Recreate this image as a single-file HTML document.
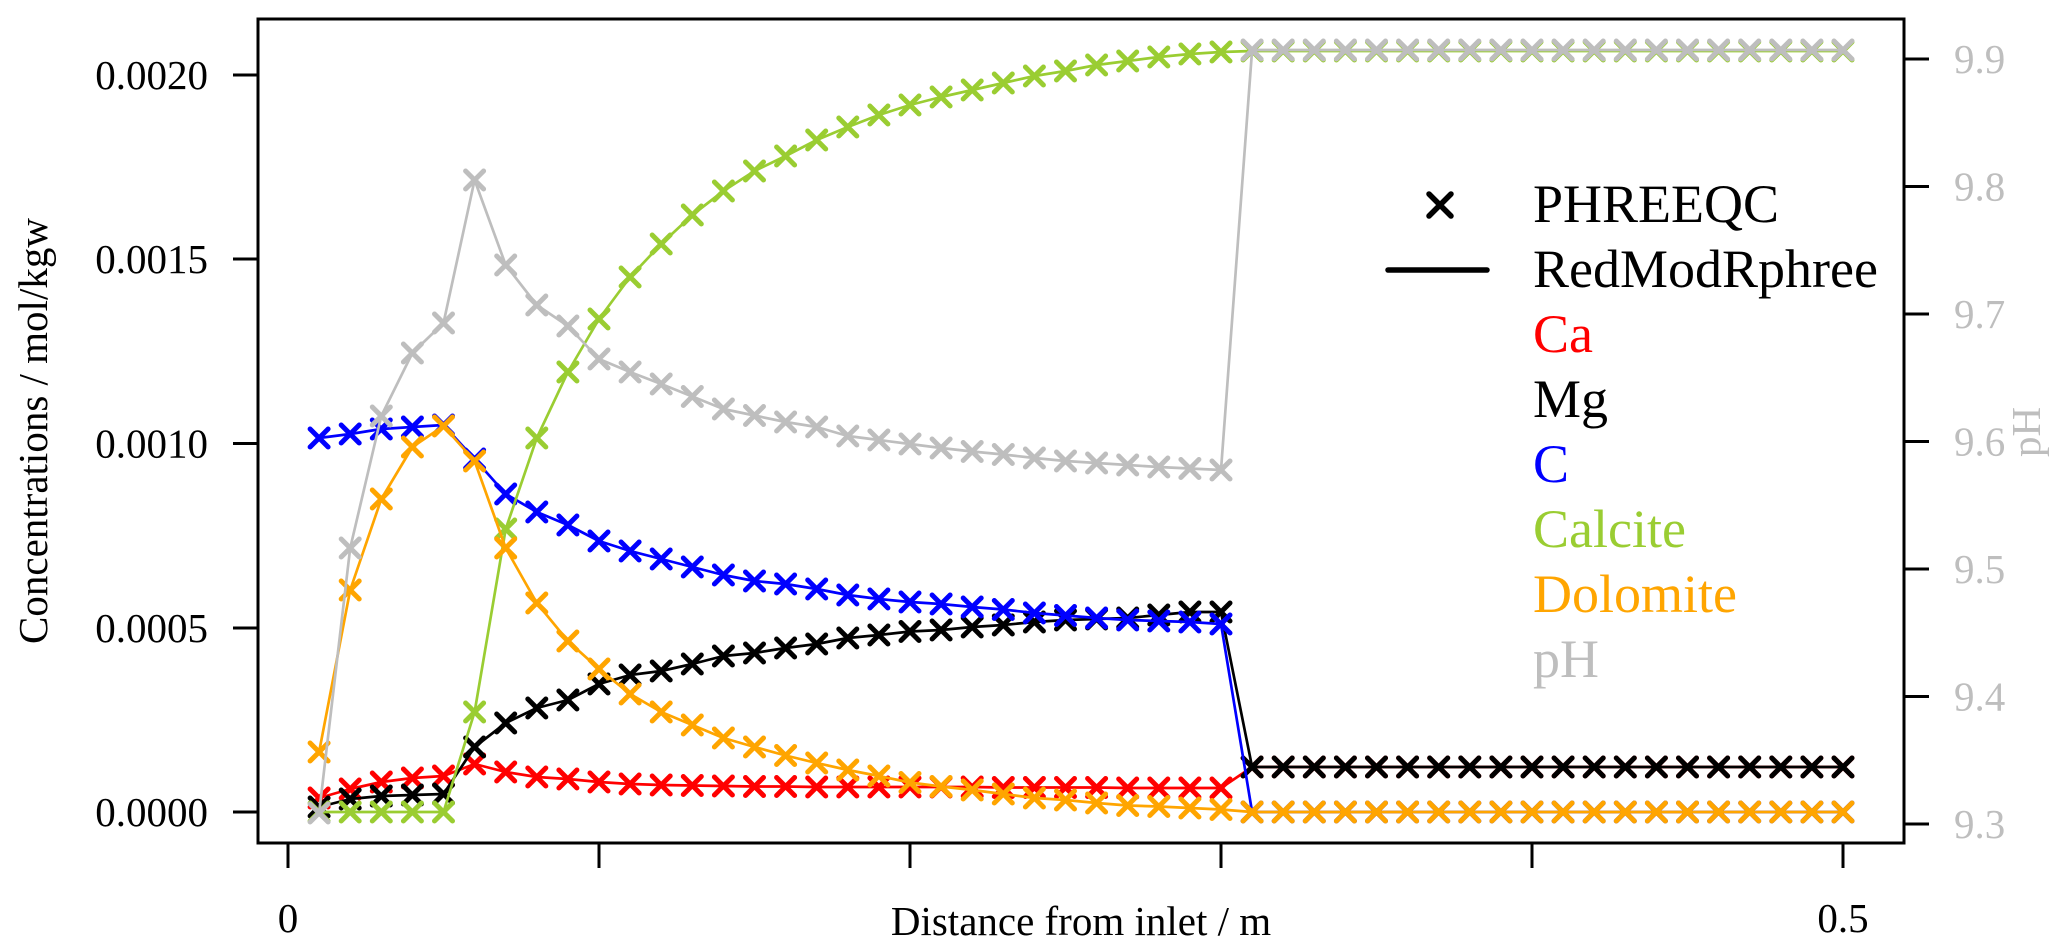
<!DOCTYPE html>
<html>
<head>
<meta charset="utf-8">
<style>
  html, body { margin: 0; padding: 0; background: #ffffff; }
  svg { display: block; }
  text { font-family: "Liberation Serif", "Times New Roman", serif; }
</style>
</head>
<body>
<svg width="2067" height="949" viewBox="0 0 2067 949" xmlns="http://www.w3.org/2000/svg">
  <defs>
    <marker id="mr" markerUnits="userSpaceOnUse" markerWidth="30" markerHeight="30" refX="15" refY="15" orient="0" overflow="visible">
      <path d="M6 6L24 24M6 24L24 6" stroke="#FF0000" stroke-width="5" stroke-linecap="round" fill="none"/>
    </marker>
    <marker id="mk" markerUnits="userSpaceOnUse" markerWidth="30" markerHeight="30" refX="15" refY="15" orient="0" overflow="visible">
      <path d="M6 6L24 24M6 24L24 6" stroke="#000000" stroke-width="5" stroke-linecap="round" fill="none"/>
    </marker>
    <marker id="mb" markerUnits="userSpaceOnUse" markerWidth="30" markerHeight="30" refX="15" refY="15" orient="0" overflow="visible">
      <path d="M6 6L24 24M6 24L24 6" stroke="#0000FF" stroke-width="5" stroke-linecap="round" fill="none"/>
    </marker>
    <marker id="mg" markerUnits="userSpaceOnUse" markerWidth="30" markerHeight="30" refX="15" refY="15" orient="0" overflow="visible">
      <path d="M6 6L24 24M6 24L24 6" stroke="#9ACD32" stroke-width="5" stroke-linecap="round" fill="none"/>
    </marker>
    <marker id="mo" markerUnits="userSpaceOnUse" markerWidth="30" markerHeight="30" refX="15" refY="15" orient="0" overflow="visible">
      <path d="M6 6L24 24M6 24L24 6" stroke="#FFA500" stroke-width="5" stroke-linecap="round" fill="none"/>
    </marker>
    <marker id="mp" markerUnits="userSpaceOnUse" markerWidth="30" markerHeight="30" refX="15" refY="15" orient="0" overflow="visible">
      <path d="M6 6L24 24M6 24L24 6" stroke="#BEBEBE" stroke-width="5" stroke-linecap="round" fill="none"/>
    </marker>
  </defs>

  <!-- Series: Ca -->
  <polyline fill="none" stroke="#FF0000" stroke-width="2.7" stroke-linejoin="round"
    marker-start="url(#mr)" marker-mid="url(#mr)" marker-end="url(#mr)"
    points="319.1,798 350.2,789 381.3,782 412.4,778 443.5,776 474.6,764 505.7,772 536.8,777 567.9,779 599,782 630.1,784 661.2,785 692.3,785.5 723.4,786 754.5,786.5 785.6,786.5 816.7,787 847.8,787 878.9,787 910,787 941.1,787 972.2,787 1003.3,787.5 1034.4,787.5 1065.5,787.5 1096.6,787.5 1127.7,788 1158.8,788 1189.9,788 1221,788 1252.1,767 1283.2,767 1314.3,767 1345.4,767 1376.5,767 1407.6,767 1438.7,767 1469.8,767 1500.9,767 1532,767 1563.1,767 1594.2,767 1625.3,767 1656.4,767 1687.5,767 1718.6,767 1749.7,767 1780.8,767 1811.9,767 1843,767"/>

  <!-- Series: Mg -->
  <polyline fill="none" stroke="#000000" stroke-width="2.7" stroke-linejoin="round"
    marker-start="url(#mk)" marker-mid="url(#mk)" marker-end="url(#mk)"
    points="319.1,807 350.2,799 381.3,796 412.4,795 443.5,794 474.6,747 505.7,723 536.8,708 567.9,700 599,684 630.1,675 661.2,671 692.3,664 723.4,656 754.5,653 785.6,648 816.7,644 847.8,638 878.9,635 910,631.5 941.1,630 972.2,627 1003.3,625 1034.4,622 1065.5,620 1096.6,619 1127.7,618 1158.8,615 1189.9,612 1221,612 1252.1,767 1283.2,767 1314.3,767 1345.4,767 1376.5,767 1407.6,767 1438.7,767 1469.8,767 1500.9,767 1532,767 1563.1,767 1594.2,767 1625.3,767 1656.4,767 1687.5,767 1718.6,767 1749.7,767 1780.8,767 1811.9,767 1843,767"/>

  <!-- Series: C -->
  <polyline fill="none" stroke="#0000FF" stroke-width="2.7" stroke-linejoin="round"
    marker-start="url(#mb)" marker-mid="url(#mb)" marker-end="url(#mb)"
    points="319.1,438 350.2,434 381.3,429 412.4,427 443.5,425 474.6,459 505.7,494 536.8,512 567.9,525 599,541 630.1,551 661.2,559 692.3,567 723.4,575 754.5,581 785.6,584 816.7,589 847.8,595 878.9,599 910,602 941.1,604 972.2,607 1003.3,609.5 1034.4,613 1065.5,615.5 1096.6,618 1127.7,620 1158.8,621 1189.9,622 1221,624 1252.1,812 1283.2,812 1314.3,812 1345.4,812 1376.5,812 1407.6,812 1438.7,812 1469.8,812 1500.9,812 1532,812 1563.1,812 1594.2,812 1625.3,812 1656.4,812 1687.5,812 1718.6,812 1749.7,812 1780.8,812 1811.9,812 1843,812"/>

  <!-- Series: Calcite -->
  <polyline fill="none" stroke="#9ACD32" stroke-width="2.7" stroke-linejoin="round"
    marker-start="url(#mg)" marker-mid="url(#mg)" marker-end="url(#mg)"
    points="319.1,812 350.2,812 381.3,812 412.4,812 443.5,812 474.6,712 505.7,529 536.8,438 567.9,372 599,319 630.1,277 661.2,244 692.3,215 723.4,191 754.5,171 785.6,156 816.7,140 847.8,127 878.9,115 910,105 941.1,97 972.2,90 1003.3,83 1034.4,76 1065.5,71 1096.6,65 1127.7,61 1158.8,57 1189.9,54 1221,52 1252.1,51 1283.2,51 1314.3,51 1345.4,51 1376.5,51 1407.6,51 1438.7,51 1469.8,51 1500.9,51 1532,51 1563.1,51 1594.2,51 1625.3,51 1656.4,51 1687.5,51 1718.6,51 1749.7,51 1780.8,51 1811.9,51 1843,51"/>

  <!-- Series: Dolomite -->
  <polyline fill="none" stroke="#FFA500" stroke-width="2.7" stroke-linejoin="round"
    marker-start="url(#mo)" marker-mid="url(#mo)" marker-end="url(#mo)"
    points="319.1,752 350.2,590 381.3,499 412.4,447 443.5,426 474.6,461 505.7,548 536.8,603 567.9,641 599,669 630.1,694 661.2,712 692.3,725 723.4,738 754.5,747 785.6,755.5 816.7,763 847.8,770 878.9,776 910,782.5 941.1,786.5 972.2,790 1003.3,794 1034.4,798 1065.5,800 1096.6,803 1127.7,805.5 1158.8,806.5 1189.9,808 1221,809.5 1252.1,812 1283.2,812 1314.3,812 1345.4,812 1376.5,812 1407.6,812 1438.7,812 1469.8,812 1500.9,812 1532,812 1563.1,812 1594.2,812 1625.3,812 1656.4,812 1687.5,812 1718.6,812 1749.7,812 1780.8,812 1811.9,812 1843,812"/>

  <!-- Series: pH (right axis) -->
  <polyline fill="none" stroke="#BEBEBE" stroke-width="2.7" stroke-linejoin="round"
    marker-start="url(#mp)" marker-mid="url(#mp)" marker-end="url(#mp)"
    points="319.1,813 350.2,548 381.3,416 412.4,353 443.5,323 474.6,180 505.7,265 536.8,305 567.9,326 599,359 630.1,372 661.2,384 692.3,396.5 723.4,409 754.5,415.5 785.6,422 816.7,427 847.8,436 878.9,440 910,444 941.1,448 972.2,451.5 1003.3,454.5 1034.4,458 1065.5,461 1096.6,463 1127.7,465 1158.8,467 1189.9,468.5 1221,470 1252.1,50 1283.2,50 1314.3,50 1345.4,50 1376.5,50 1407.6,50 1438.7,50 1469.8,50 1500.9,50 1532,50 1563.1,50 1594.2,50 1625.3,50 1656.4,50 1687.5,50 1718.6,50 1749.7,50 1780.8,50 1811.9,50 1843,50"/>

  <!-- Plot box -->
  <rect x="258" y="19" width="1646" height="824" fill="none" stroke="#000" stroke-width="3"/>

  <!-- Left ticks -->
  <g stroke="#000" stroke-width="3">
    <line x1="233" y1="75" x2="258" y2="75"/>
    <line x1="233" y1="259" x2="258" y2="259"/>
    <line x1="233" y1="443.5" x2="258" y2="443.5"/>
    <line x1="233" y1="628" x2="258" y2="628"/>
    <line x1="233" y1="812" x2="258" y2="812"/>
  </g>
  <g font-size="41" fill="#000" text-anchor="end">
    <text x="208" y="89">0.0020</text>
    <text x="208" y="273">0.0015</text>
    <text x="208" y="457.5">0.0010</text>
    <text x="208" y="642">0.0005</text>
    <text x="208" y="826">0.0000</text>
  </g>

  <!-- Right ticks -->
  <g stroke="#000" stroke-width="3">
    <line x1="1904" y1="59" x2="1929" y2="59"/>
    <line x1="1904" y1="186.5" x2="1929" y2="186.5"/>
    <line x1="1904" y1="314" x2="1929" y2="314"/>
    <line x1="1904" y1="441.5" x2="1929" y2="441.5"/>
    <line x1="1904" y1="569" x2="1929" y2="569"/>
    <line x1="1904" y1="696.5" x2="1929" y2="696.5"/>
    <line x1="1904" y1="824" x2="1929" y2="824"/>
  </g>
  <g font-size="41" fill="#BEBEBE" text-anchor="start">
    <text x="1954" y="73">9.9</text>
    <text x="1954" y="200.5">9.8</text>
    <text x="1954" y="328">9.7</text>
    <text x="1954" y="455.5">9.6</text>
    <text x="1954" y="583">9.5</text>
    <text x="1954" y="710.5">9.4</text>
    <text x="1954" y="838">9.3</text>
  </g>

  <!-- Bottom ticks -->
  <g stroke="#000" stroke-width="3">
    <line x1="288" y1="843" x2="288" y2="868"/>
    <line x1="599" y1="843" x2="599" y2="868"/>
    <line x1="910" y1="843" x2="910" y2="868"/>
    <line x1="1221" y1="843" x2="1221" y2="868"/>
    <line x1="1532" y1="843" x2="1532" y2="868"/>
    <line x1="1843" y1="843" x2="1843" y2="868"/>
  </g>
  <g font-size="41" fill="#000" text-anchor="middle">
    <text x="288" y="932">0</text>
    <text x="1843" y="932">0.5</text>
    <text x="1081" y="935">Distance from inlet / m</text>
  </g>

  <!-- Axis titles -->
  <text font-size="41" fill="#000" text-anchor="middle" transform="translate(47,431) rotate(-90)">Concentrations / mol/kgw</text>
  <text font-size="41" fill="#BEBEBE" text-anchor="middle" transform="translate(2040,432) rotate(-90)">pH</text>

  <!-- Legend -->
  <path d="M1429 194L1451 216M1429 216L1451 194" stroke="#000" stroke-width="5.5" stroke-linecap="round" fill="none"/>
  <line x1="1388" y1="270" x2="1487" y2="270" stroke="#000" stroke-width="5.5" stroke-linecap="round"/>
  <g font-size="54">
    <text x="1533" y="222" fill="#000">PHREEQC</text>
    <text x="1533" y="287" fill="#000">RedModRphree</text>
    <text x="1533" y="352" fill="#FF0000">Ca</text>
    <text x="1533" y="417" fill="#000">Mg</text>
    <text x="1533" y="482" fill="#0000FF">C</text>
    <text x="1533" y="547" fill="#9ACD32">Calcite</text>
    <text x="1533" y="612" fill="#FFA500">Dolomite</text>
    <text x="1533" y="677" fill="#BEBEBE">pH</text>
  </g>
</svg>
</body>
</html>
